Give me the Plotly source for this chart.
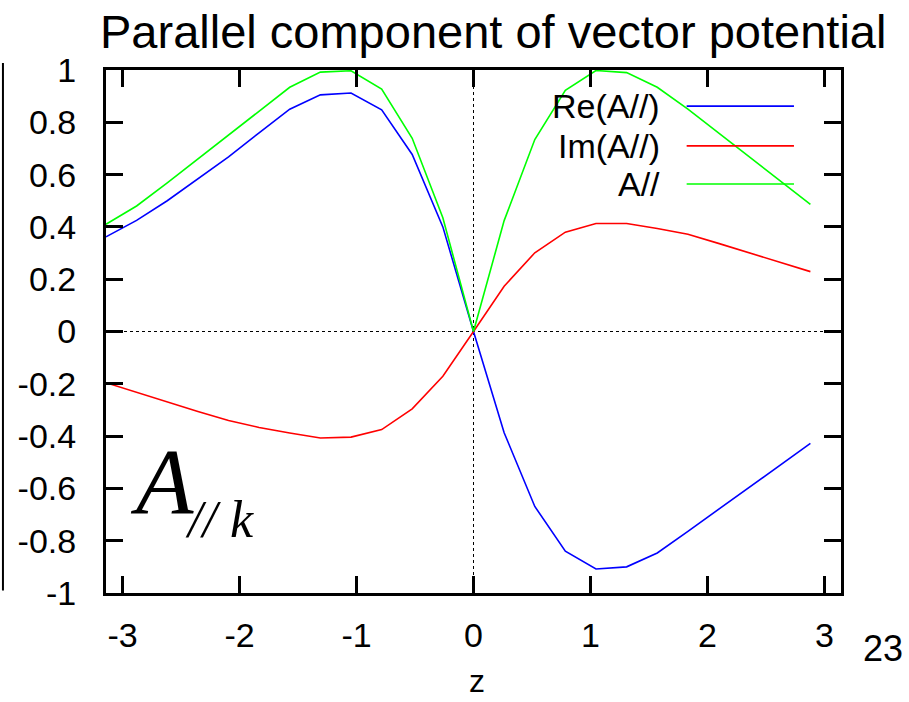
import plotly.graph_objects as go

# Sample positions z = k*pi/12, k = -12 .. 11
z = [-3.142, -2.880, -2.618, -2.356, -2.094, -1.833, -1.571, -1.309,
     -1.047, -0.785, -0.524, -0.262, 0.000, 0.262, 0.524, 0.785,
     1.047, 1.309, 1.571, 1.833, 2.094, 2.356, 2.618, 2.880]

re_a = [0.362, 0.425, 0.500, 0.585, 0.668, 0.760, 0.850, 0.905,
        0.912, 0.848, 0.677, 0.400, 0.000, -0.387, -0.669, -0.840,
        -0.908, -0.900, -0.847, -0.764, -0.681, -0.597, -0.513, -0.428]

im_a = [-0.196, -0.233, -0.270, -0.306, -0.340, -0.367, -0.388, -0.407,
        -0.404, -0.375, -0.296, -0.171, 0.000, 0.173, 0.301, 0.380,
        0.413, 0.413, 0.394, 0.372, 0.337, 0.301, 0.265, 0.229]

abs_a = [0.410, 0.480, 0.568, 0.660, 0.750, 0.844, 0.934, 0.992,
         0.997, 0.927, 0.739, 0.435, 0.000, 0.424, 0.734, 0.922,
         0.998, 0.990, 0.934, 0.850, 0.760, 0.669, 0.578, 0.486]

series_names = ["Re(A//)", "Im(A//)", "A//"]
series_colors = ["#0000ff", "#ff0000", "#00ff00"]
series_values = [re_a, im_a, abs_a]

x_ticks = [-3, -2, -1, 0, 1, 2, 3]
x_tick_text = ["-3", "-2", "-1", "0", "1", "2", "3"]
y_ticks = [-1, -0.8, -0.6, -0.4, -0.2, 0, 0.2, 0.4, 0.6, 0.8, 1]
y_tick_text = ["-1", "-0.8", "-0.6", "-0.4", "-0.2", "0", "0.2", "0.4", "0.6", "0.8", "1"]

X_MIN, X_MAX = -3.1416, 3.1416
Y_MIN, Y_MAX = -1, 1

SANS = "Liberation Sans, Arial, sans-serif"
SERIF = "Liberation Serif, Times New Roman, serif"

fig = go.Figure()
for name, color, vals in zip(series_names, series_colors, series_values):
    fig.add_trace(go.Scatter(x=z, y=vals, mode="lines", name=name,
                             line=dict(color=color, width=1.6),
                             showlegend=False))

shapes = [
    # dotted zero axes
    dict(type="line", xref="x", yref="y", x0=0, x1=0, y0=Y_MIN, y1=Y_MAX,
         line=dict(color="black", width=1, dash="3px,3px"), layer="below"),
    dict(type="line", xref="x", yref="y", x0=X_MIN, x1=X_MAX, y0=0, y1=0,
         line=dict(color="black", width=1, dash="3px,3px"), layer="below"),
    # vertical rule at the far left edge
    dict(type="line", xref="paper", yref="paper", x0=-0.1402, x1=-0.1402,
         y0=0.005, y1=1.0134, line=dict(color="black", width=2)),
]

annotations = []
# key: label text on the left, line sample on the right
legend_y = [0.931, 0.855, 0.782]
for name, color, ly in zip(series_names, series_colors, legend_y):
    annotations.append(dict(text=name, xref="paper", yref="paper",
                            x=0.756, y=ly, xanchor="right", yanchor="middle",
                            showarrow=False,
                            font=dict(family=SANS, size=34, color="black")))
    shapes.append(dict(type="line", xref="paper", yref="paper",
                       x0=0.790, x1=0.936, y0=ly, y1=ly,
                       line=dict(color=color, width=1.6)))

# symbol A_{//k}
annotations.append(dict(text="<i>A</i>", xref="paper", yref="paper",
                        x=0.030, y=0.214, xanchor="left", yanchor="middle",
                        showarrow=False,
                        font=dict(family=SERIF, size=94, color="black")))
annotations.append(dict(text="<i>// k</i>", xref="paper", yref="paper",
                        x=0.105, y=0.140, xanchor="left", yanchor="middle",
                        showarrow=False,
                        font=dict(family=SERIF, size=52, color="black")))
# axis label
annotations.append(dict(text="z", xref="paper", yref="paper",
                        x=0.5046, y=-0.169, xanchor="center", yanchor="middle",
                        showarrow=False,
                        font=dict(family=SANS, size=32, color="black")))
# page number
annotations.append(dict(text="23", xref="paper", yref="paper",
                        x=1.0576, y=-0.1058, xanchor="center", yanchor="middle",
                        showarrow=False,
                        font=dict(family=SANS, size=36, color="black")))

fig.update_layout(
    width=909, height=702,
    margin=dict(l=106, r=68, t=70, b=109),
    paper_bgcolor="white", plot_bgcolor="white",
    title=dict(text="Parallel component of vector potential",
               x=0.5426, xref="container", xanchor="center",
               y=0.955, yref="container", yanchor="middle",
               font=dict(family=SANS, size=47, color="black")),
    shapes=shapes,
    annotations=annotations,
    xaxis=dict(range=[X_MIN, X_MAX], tickvals=x_ticks, ticktext=x_tick_text,
               showgrid=False, zeroline=False,
               showline=True, linecolor="black", linewidth=3, mirror="allticks",
               ticks="inside", ticklen=17, tickwidth=3, tickcolor="black",
               ticklabelstandoff=10,
               tickfont=dict(family=SANS, size=34, color="black")),
    yaxis=dict(range=[Y_MIN, Y_MAX], tickvals=y_ticks, ticktext=y_tick_text,
               showgrid=False, zeroline=False,
               showline=True, linecolor="black", linewidth=3, mirror="allticks",
               ticks="inside", ticklen=17, tickwidth=3, tickcolor="black",
               ticklabelstandoff=20,
               tickfont=dict(family=SANS, size=34, color="black")),
)

fig.write_html("out.html")
